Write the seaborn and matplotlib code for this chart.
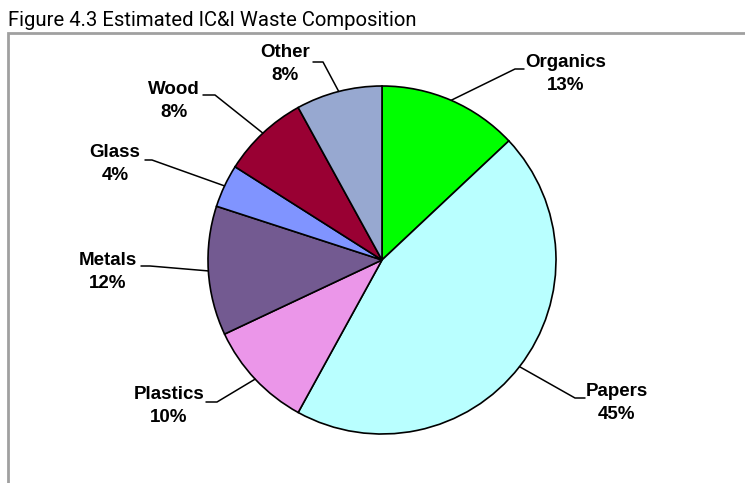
import numpy as np
import matplotlib
matplotlib.use("Agg")
import matplotlib.pyplot as plt
import seaborn as sns
from matplotlib.patches import Rectangle

# data
categories = ["Organics", "Papers", "Plastics", "Metals", "Glass", "Wood", "Other"]
shares = [13, 45, 10, 12, 4, 8, 8]
colors = ["#00FF00", "#B9FFFF", "#EB96E9", "#735A91", "#8094FF", "#990033", "#97A8D0"]

# label layout in pixels: text centre, elbow of the leader, end of leader, leader y
label_pos = {
    "Organics": (566, 74, 515, 524, 69),
    "Papers": (617, 403, 575, 585, 398),
    "Plastics": (169, 406, 217, 206, 402),
    "Metals": (108, 272, 150, 141, 266),
    "Glass": (115, 164, 152, 145, 160),
    "Wood": (174, 101, 215, 203, 95),
    "Other": (285, 64, 323, 313, 62),
}

sns.set_style("white")
plt.rcParams["font.family"] = ["Liberation Sans", "DejaVu Sans"]
plt.rcParams["text.color"] = "black"

W, H = 745, 483
fig = plt.figure(figsize=(W / 100, H / 100), dpi=100)
ax = fig.add_axes([0, 0, 1, 1])

cx, cy, r = 382, 260, 174
# y axis is flipped (pixel coords), so counterclock in data = clockwise on screen
wedges, _ = ax.pie(shares, colors=colors, startangle=-90, counterclock=True,
                   center=(cx, cy), radius=r,
                   wedgeprops=dict(edgecolor="black", linewidth=1.2))
ax.set_xlim(0, W)
ax.set_ylim(H, 0)
ax.set_aspect("auto")
ax.axis("off")

for w, name, val in zip(wedges, categories, shares):
    mid = np.deg2rad((w.theta1 + w.theta2) / 2)
    ex, ey = cx + r * np.cos(mid), cy + r * np.sin(mid)
    tx, ty, bx, endx, ly = label_pos[name]
    ax.plot([ex, bx, endx], [ey, ly, ly], color="black", lw=1.1)
    ax.text(tx, ty, f"{name}\n{val}%", ha="center", va="center",
            multialignment="center", fontsize=13.5, fontweight="bold",
            color="black", linespacing=1.45)

# chart frame (clipped at right and bottom like the original)
fig.patches.append(Rectangle((8 / W, -0.1), 1.2, 1.1 - 33 / H, transform=fig.transFigure,
                             fill=False, edgecolor="#A0A0A0", lw=2))

fig.text(8 / W, 1 - 26 / H, "Figure 4.3 Estimated IC&I Waste Composition",
         fontsize=14.6, ha="left", va="baseline", color="black",
         family=["Roboto", "DejaVu Sans"])

fig.savefig("out.png", dpi=100)
